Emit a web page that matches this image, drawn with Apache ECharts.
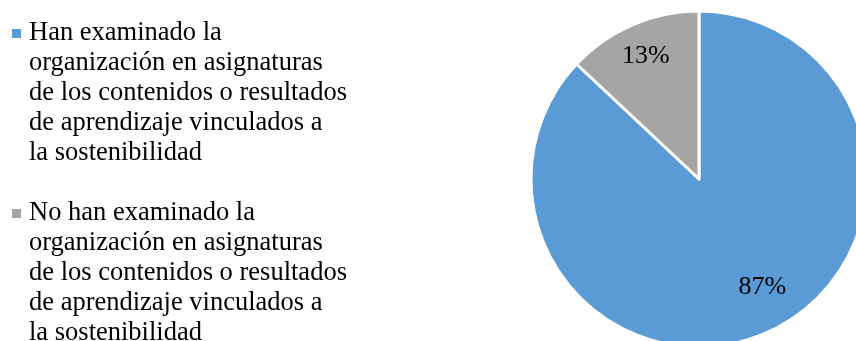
<!DOCTYPE html>
<html>
<head>
<meta charset="utf-8">
<style>
  html, body { margin: 0; padding: 0; background: #fff; }
  #chart { width: 856px; height: 341px; }
</style>
<script src="https://cdn.jsdelivr.net/npm/echarts@6/dist/echarts.min.js"></script>
</head>
<body>
<div id="chart"></div>
<script>
// Categories (legend entries), wrapped the same way they are printed
const categories = [
  'Han examinado la\norganización en asignaturas\nde los contenidos o resultados\nde aprendizaje vinculados a\nla sostenibilidad',
  'No han examinado la\norganización en asignaturas\nde los contenidos o resultados\nde aprendizaje vinculados a\nla sostenibilidad'
];
// Share of respondents, in percent
const shares = [87, 13];
const colors = ['#5B9BD5', '#A5A5A5'];

const serif = "'Liberation Serif', 'DejaVu Serif', serif";
const pieData = categories.map((name, i) => ({
  name: name,
  value: shares[i],
  itemStyle: { color: colors[i] }
}));

// Legend marker: a small square beside the first text line, inside a tall
// empty box as high as the five-line label so that the label starts level with it.
const markerIcon = 'path://M0,0L0,0M0,11h9v9h-9zM12,150L12,150';

const chart = echarts.init(document.getElementById('chart'), null, { renderer: 'canvas' });
chart.setOption({
  animation: false,
  backgroundColor: '#ffffff',
  legend: {
    orient: 'vertical',
    left: 12,
    top: 18,
    height: 330,
    padding: 0,
    icon: markerIcon,
    itemWidth: 12,
    itemHeight: 150,
    itemGap: 30,
    selectedMode: false,
    data: categories,
    itemStyle: { borderWidth: 0 },
    textStyle: {
      fontFamily: serif,
      fontSize: 26.5,
      lineHeight: 30,
      color: '#000'
    }
  },
  series: [
    {
      // visible wedges
      type: 'pie',
      center: [699, 179],
      radius: [0, 168],
      startAngle: 90,
      clockwise: true,
      avoidLabelOverlap: false,
      data: pieData,
      itemStyle: { borderColor: '#ffffff', borderWidth: 3 },
      label: { show: false },
      labelLine: { show: false },
      emphasis: { disabled: true }
    },
    {
      // transparent ring that carries the percentage labels
      type: 'pie',
      center: [699, 179],
      radius: [112, 150],
      startAngle: 90,
      clockwise: true,
      silent: true,
      legendHoverLink: false,
      avoidLabelOverlap: false,
      data: pieData.map((d, i) => ({
        name: d.name,
        value: d.value,
        itemStyle: { color: 'rgba(0,0,0,0)' },
        // the large slice's label sits a little off its bisector
        label: i === 0 ? { offset: [10, -15] } : {}
      })),
      itemStyle: { borderWidth: 0 },
      label: {
        show: true,
        position: 'inside',
        formatter: p => p.value + '%',
        fontFamily: serif,
        fontSize: 26,
        color: '#000'
      },
      labelLine: { show: false },
      emphasis: { disabled: true }
    }
  ]
});
</script>
</body>
</html>
